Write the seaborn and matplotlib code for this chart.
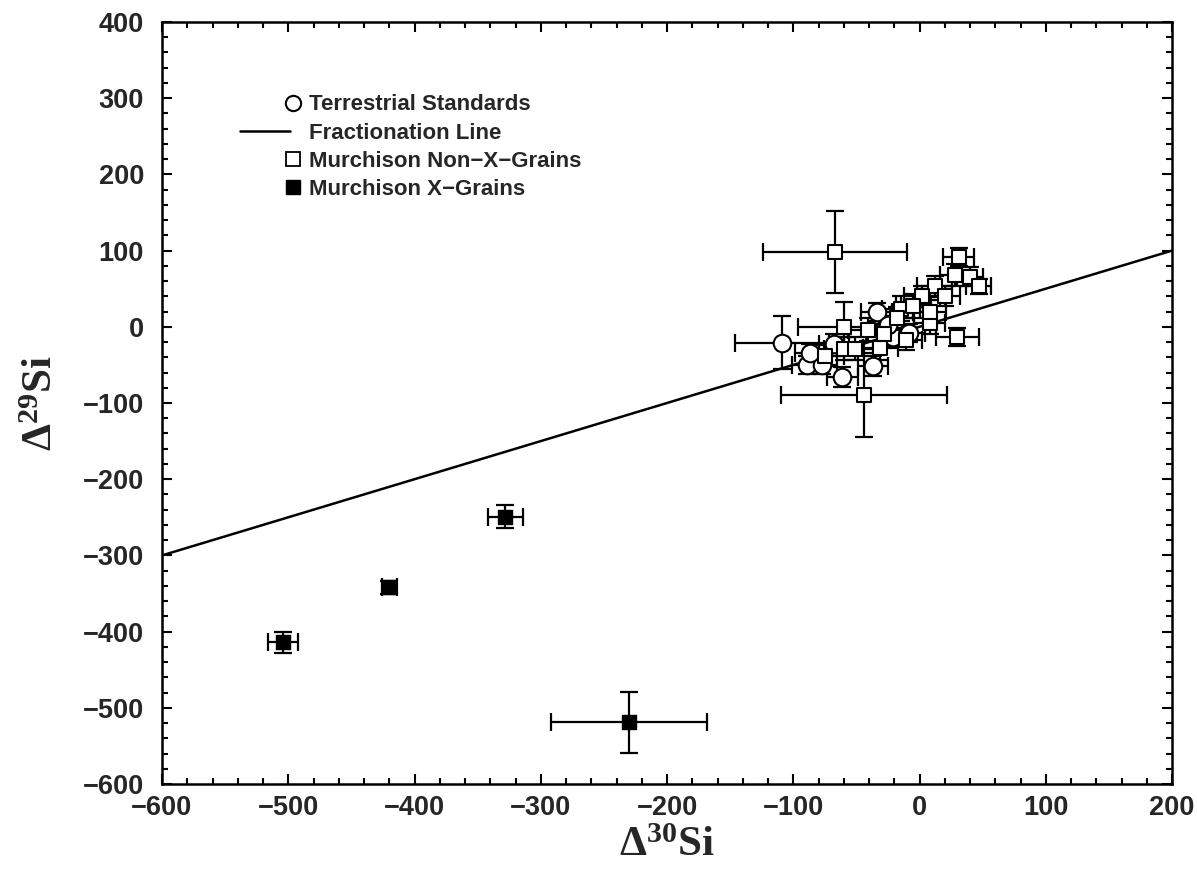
import numpy as np
import pandas as pd
import matplotlib
matplotlib.use("Agg")
import matplotlib.pyplot as plt
import seaborn as sns
from matplotlib.lines import Line2D
from matplotlib.legend_handler import HandlerLine2DCompound
from matplotlib.ticker import MultipleLocator

# ---------------- data ----------------
# Terrestrial standards (open circles)
std_x = [-109, -89, -77, -61, -37, -34, -68, -21, -87, -8, -25]
std_y = [-21, -50, -50, -66, -51, 19, -22, -13, -34, -8, 2]
std_xerr = [37, 12, 12, 12, 12, 12, 12, 12, 12, 12, 12]
std_yerr = [35, 12, 12, 13, 13, 12, 12, 12, 12, 12, 12]

# Murchison non-X grains (open squares)
nonx_x = [-67, -44, 30, 31, 28, 40, 47, 12, 20, 2, -15, -18, 8, -11, -41,
          -60, -60, -51, -31, -75, -5, 8, -28]
nonx_y = [98, -89, -13, 92, 68, 66, 53, 53, 40, 40, 24, 11, 5, -17, -4,
          0, -29, -29, -28, -38, 27, 20, -10]
nonx_xerr = [57, 66, 17, 12, 12, 10, 10, 14, 12, 14, 15, 14, 12, 13, 16,
             36, 16, 14, 14, 15, 14, 13, 14]
nonx_yerr = [54, 55, 12, 12, 14, 12, 10, 14, 13, 14, 16, 15, 15, 14, 15,
             32, 15, 15, 15, 14, 16, 15, 14]

# Murchison X grains (filled squares)
xg_x = [-504, -420, -328, -230]
xg_y = [-414, -342, -249, -519]
xg_xerr = [12, 6, 14, 62]
xg_yerr = [14, 8, 15, 40]

# Fractionation line
frac_x = [-600, 200]
frac_y = [-300, 100]

# ---------------- style ----------------
sns.set_style("ticks")
plt.rcParams["font.family"] = ["Liberation Sans", "DejaVu Sans"]
plt.rcParams["font.weight"] = "bold"
plt.rcParams["mathtext.fontset"] = "custom"
plt.rcParams["mathtext.rm"] = "Liberation Serif:bold"
plt.rcParams["mathtext.bf"] = "Liberation Serif:bold"
plt.rcParams["mathtext.it"] = "Liberation Serif:bold"

fig = plt.figure(figsize=(11.97, 8.74), dpi=100)
ax = fig.add_axes([162 / 1197, 1 - 784 / 874, 1010 / 1197, 762 / 874])

df_std = pd.DataFrame({"x": std_x, "y": std_y})
df_nonx = pd.DataFrame({"x": nonx_x, "y": nonx_y})
df_xg = pd.DataFrame({"x": xg_x, "y": xg_y})
df_frac = pd.DataFrame({"x": frac_x, "y": frac_y})

ebkw = dict(fmt="none", ecolor="black", elinewidth=1.6, capsize=6.5,
            capthick=1.6, zorder=2)
ax.errorbar(std_x, std_y, xerr=std_xerr, yerr=std_yerr, **ebkw)
ax.errorbar(nonx_x, nonx_y, xerr=nonx_xerr, yerr=nonx_yerr, **ebkw)
ax.errorbar(xg_x, xg_y, xerr=xg_xerr, yerr=xg_yerr, **ebkw)

sns.lineplot(data=df_frac, x="x", y="y", color="black", linewidth=1.8,
             ax=ax, zorder=1)
sns.scatterplot(data=df_std, x="x", y="y", marker="o", s=160,
                facecolor="white", edgecolor="black", linewidth=1.5,
                ax=ax, zorder=3)
sns.scatterplot(data=df_nonx, x="x", y="y", marker="s", s=100,
                facecolor="white", edgecolor="black", linewidth=1.5,
                ax=ax, zorder=4)
sns.scatterplot(data=df_xg, x="x", y="y", marker="s", s=95,
                facecolor="black", edgecolor="black", linewidth=1.0,
                ax=ax, zorder=4)

ax.set_xlim(-600, 200)
ax.set_ylim(-600, 400)
ax.xaxis.set_major_locator(MultipleLocator(100))
ax.xaxis.set_minor_locator(MultipleLocator(20))
ax.yaxis.set_major_locator(MultipleLocator(100))
ax.yaxis.set_minor_locator(MultipleLocator(20))
ax.tick_params(which="both", direction="in", top=True, right=True,
               width=1.5, color="black")
ax.tick_params(which="major", length=7)
ax.tick_params(which="minor", length=4)
ax.tick_params(axis="x", which="major", pad=8, labelsize=19.5)
ax.tick_params(axis="y", which="major", pad=13, labelsize=19.5)
for lab in ax.get_xticklabels() + ax.get_yticklabels():
    lab.set_fontweight("bold")
for sp in ax.spines.values():
    sp.set_linewidth(1.8)
    sp.set_color("black")

ax.set_xlabel("Δ$^{30}$Si", fontsize=31, fontfamily="Liberation Serif",
              fontweight="bold")
ax.set_ylabel("Δ$^{29}$Si", fontsize=31, fontfamily="Liberation Serif",
              fontweight="bold")
ax.xaxis.set_label_coords(0.5, -0.056)
ax.yaxis.set_label_coords(-0.10, 0.5)


class RightMarker(HandlerLine2DCompound):
    def get_xdata(self, legend, xdescent, ydescent, width, height, fontsize):
        xdata = np.array([-xdescent, -xdescent + width - 2])
        return xdata, np.array([-xdescent + width])


handles = [
    Line2D([], [], linestyle="none", marker="o", markersize=11,
           markerfacecolor="white", markeredgecolor="black", markeredgewidth=1.5),
    Line2D([], [], color="black", linewidth=1.8),
    Line2D([], [], linestyle="none", marker="s", markersize=9.5,
           markerfacecolor="white", markeredgecolor="black", markeredgewidth=1.3),
    Line2D([], [], linestyle="none", marker="s", markersize=9.5,
           markerfacecolor="black", markeredgecolor="black"),
]
labels = ["Terrestrial Standards", "Fractionation Line",
          "Murchison Non-X-Grains", "Murchison X-Grains"]
leg = ax.legend(handles, labels, loc="upper left",
                bbox_to_anchor=(0.077, 0.905), frameon=False,
                fontsize=16, handlelength=2.4, handletextpad=0.7,
                labelspacing=0.32, borderpad=0, borderaxespad=0,
                handler_map={h: RightMarker() for h in handles})
for t in leg.get_texts():
    t.set_fontweight("bold")
    t.set_text(t.get_text().replace("-", "\u2212"))

fig.savefig("out.png", dpi=100)
